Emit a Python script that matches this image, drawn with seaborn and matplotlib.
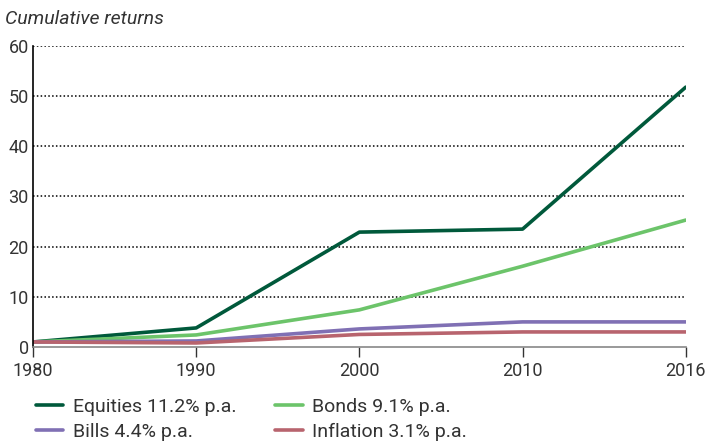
import matplotlib
matplotlib.use("Agg")
import matplotlib.pyplot as plt
import seaborn as sns
import pandas as pd

years = ["1980", "1990", "2000", "2010", "2016"]
equities = [1.0, 3.8, 22.9, 23.5, 51.8]
bonds = [1.0, 2.4, 7.4, 16.1, 25.3]
bills = [1.0, 1.2, 3.6, 5.0, 5.0]
inflation = [1.0, 0.8, 2.5, 3.0, 3.0]
series_names = ["Equities 11.2% p.a.", "Bonds 9.1% p.a.", "Bills 4.4% p.a.", "Inflation 3.1% p.a."]
colors = ["#00593b", "#6cc46a", "#8070b4", "#b8646e"]
yticks = [0, 10, 20, 30, 40, 50, 60]

sns.set_theme(style="white")
plt.rcParams['font.family'] = ['Roboto', 'DejaVu Sans']
text_color = "#333333"

rows = []
for name, vals in zip(series_names, [equities, bonds, bills, inflation]):
    for y, v in zip(years, vals):
        rows.append({"year": y, "value": v, "series": name})
df = pd.DataFrame(rows)

fig = plt.figure(figsize=(7.08, 4.44), dpi=100)
ax = fig.add_axes([0.0466, 0.2185, 0.922, 0.6779])

sns.lineplot(data=df, x="year", y="value", hue="series", hue_order=series_names,
             palette=colors, linewidth=2.6, ax=ax, sort=False)

ax.set_xlim(0, len(years) - 1)
ax.set_ylim(0, 60)
ax.set_yticks(yticks)
ax.set_xticks(range(len(years)))
ax.set_xticklabels(years)
ax.set_xlabel("")
ax.set_ylabel("")
for t in yticks[1:]:
    ax.axhline(t, color="black", linestyle=(0, (1, 1.5)), linewidth=1.1, zorder=0)

for s in ["top", "right"]:
    ax.spines[s].set_visible(False)
ax.spines["left"].set_color("black")
ax.spines["left"].set_linewidth(1.2)
ax.spines["bottom"].set_color("#888888")
ax.spines["bottom"].set_linewidth(1.2)
ax.tick_params(axis="x", direction="out", length=7, width=1, color="#333333",
               labelsize=13, labelcolor=text_color, pad=4, bottom=True)
ax.tick_params(axis="y", length=0, labelsize=13, labelcolor=text_color, pad=3)

fig.text(0.007, 0.958, "Cumulative returns", style="italic", fontsize=14,
         color=text_color, va="center", ha="left")

handles, labels = ax.get_legend_handles_labels()
order = [0, 2, 1, 3]
ax.legend([handles[i] for i in order], [labels[i] for i in order],
          loc="upper left", bbox_to_anchor=(36 / 708, 1 - 398 / 444),
          bbox_transform=fig.transFigure, ncol=2, borderpad=0, borderaxespad=0,
          frameon=False, fontsize=14, labelcolor=text_color, handlelength=1.4,
          columnspacing=2.0, handletextpad=0.5, labelspacing=0.35)

fig.savefig("out.png", dpi=100)
